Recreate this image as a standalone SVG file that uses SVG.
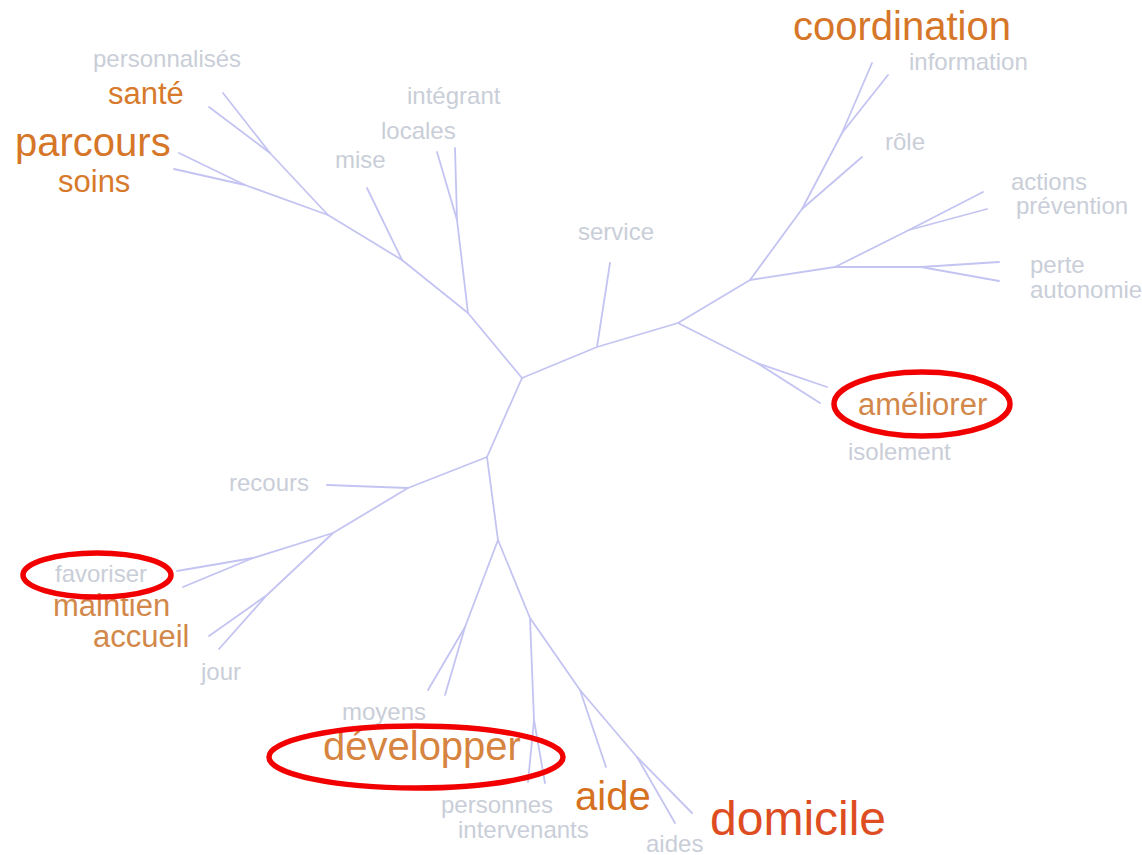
<svg xmlns="http://www.w3.org/2000/svg" width="1142" height="855" viewBox="0 0 1142 855">
<style>
  .bg{fill:#ffffff}
  .edge{fill:none;stroke:#c4c4f2;stroke-width:1.8;stroke-linecap:round;stroke-linejoin:round}
  text{font-family:"Liberation Sans",Arial,sans-serif}
  .g{fill:#c9ced8;font-size:24px}
  .o{fill:#d77a2c;font-size:31px}
  .om{fill:#d2884a;font-size:31px}
  .big{fill:#d67628;font-size:40px}
  .dom{fill:#de4d22;font-size:48px}
  .mark{fill:none;stroke:#f20000;stroke-width:5.5}
</style>
<rect class="bg" x="0" y="0" width="1142" height="855"/>
<g id="connectors">
  <polyline class="edge" points="522,378 468,313 457,220 437,152"/>
  <polyline class="edge" points="457,220 455,148"/>
  <polyline class="edge" points="468,313 402,260 367,188"/>
  <polyline class="edge" points="402,260 328,215 270,153 223,93"/>
  <polyline class="edge" points="270,153 209,107"/>
  <polyline class="edge" points="328,215 245,185 179,153"/>
  <polyline class="edge" points="245,185 174,169"/>
  <polyline class="edge" points="522,378 597,347 610,263"/>
  <polyline class="edge" points="597,347 678,323 757,363 827,387"/>
  <polyline class="edge" points="757,363 820,403"/>
  <polyline class="edge" points="678,323 750,280 802,209 842,133 872,63"/>
  <polyline class="edge" points="842,133 888,75"/>
  <polyline class="edge" points="802,209 862,157"/>
  <polyline class="edge" points="750,280 835,267 909,230 983,192"/>
  <polyline class="edge" points="909,230 987,209"/>
  <polyline class="edge" points="835,267 921,267 999,262"/>
  <polyline class="edge" points="921,267 999,281"/>
  <polyline class="edge" points="522,378 487,457 408,488 327,485"/>
  <polyline class="edge" points="408,488 333,533 253,558 177,571"/>
  <polyline class="edge" points="253,558 183,587"/>
  <polyline class="edge" points="333,533 267,595 209,636"/>
  <polyline class="edge" points="267,595 219,649"/>
  <polyline class="edge" points="487,457 498,540 465,627 428,690"/>
  <polyline class="edge" points="465,627 445,695"/>
  <polyline class="edge" points="498,540 530,618 534,720 528,782"/>
  <polyline class="edge" points="534,720 545,783"/>
  <polyline class="edge" points="530,618 580,690 606,767"/>
  <polyline class="edge" points="580,690 637,757 675,823"/>
  <polyline class="edge" points="637,757 692,813"/>
</g>
<g id="n-personnalises"><text class="g" x="93" y="67">personnalisés</text></g>
<g id="n-sante"><text class="o" x="108" y="104">santé</text></g>
<g id="n-parcours"><text class="big" x="15" y="156">parcours</text></g>
<g id="n-soins"><text class="o" x="58" y="192">soins</text></g>
<g id="n-integrant"><text class="g" x="407" y="104">intégrant</text></g>
<g id="n-locales"><text class="g" x="381" y="139">locales</text></g>
<g id="n-mise"><text class="g" x="335" y="168">mise</text></g>
<g id="n-coordination"><text class="big" x="793" y="40">coordination</text></g>
<g id="n-information"><text class="g" x="909" y="70">information</text></g>
<g id="n-role"><text class="g" x="885" y="150">rôle</text></g>
<g id="n-actions"><text class="g" x="1011" y="190">actions</text></g>
<g id="n-prevention"><text class="g" x="1016" y="214">prévention</text></g>
<g id="n-perte"><text class="g" x="1030" y="273">perte</text></g>
<g id="n-autonomie"><text class="g" x="1030" y="298">autonomie</text></g>
<g id="n-service"><text class="g" x="578" y="240">service</text></g>
<g id="n-ameliorer"><text class="om" x="858" y="415">améliorer</text></g>
<g id="n-isolement"><text class="g" x="848" y="460">isolement</text></g>
<g id="n-recours"><text class="g" x="229" y="491">recours</text></g>
<g id="n-favoriser"><text class="g" x="55" y="582">favoriser</text></g>
<g id="n-maintien"><text class="om" x="53" y="616">maintien</text></g>
<g id="n-accueil"><text class="om" x="93" y="647">accueil</text></g>
<g id="n-jour"><text class="g" x="201" y="680">jour</text></g>
<g id="n-moyens"><text class="g" x="342" y="720">moyens</text></g>
<g id="n-developper"><text class="big" x="323" y="760" style="fill:#d6843f">développer</text></g>
<g id="n-personnes"><text class="g" x="441" y="813">personnes</text></g>
<g id="n-intervenants"><text class="g" x="458" y="838">intervenants</text></g>
<g id="n-aide"><text class="big" x="575" y="810" style="fill:#d6721f">aide</text></g>
<g id="n-aides"><text class="g" x="646" y="852">aides</text></g>
<g id="n-domicile"><text class="dom" x="710" y="835">domicile</text></g>
<g id="highlights">
  <ellipse class="mark" cx="922" cy="404" rx="88" ry="32"/>
  <ellipse class="mark" cx="97" cy="575" rx="74" ry="22"/>
  <ellipse class="mark" cx="416" cy="757" rx="147" ry="31"/>
</g>
</svg>
